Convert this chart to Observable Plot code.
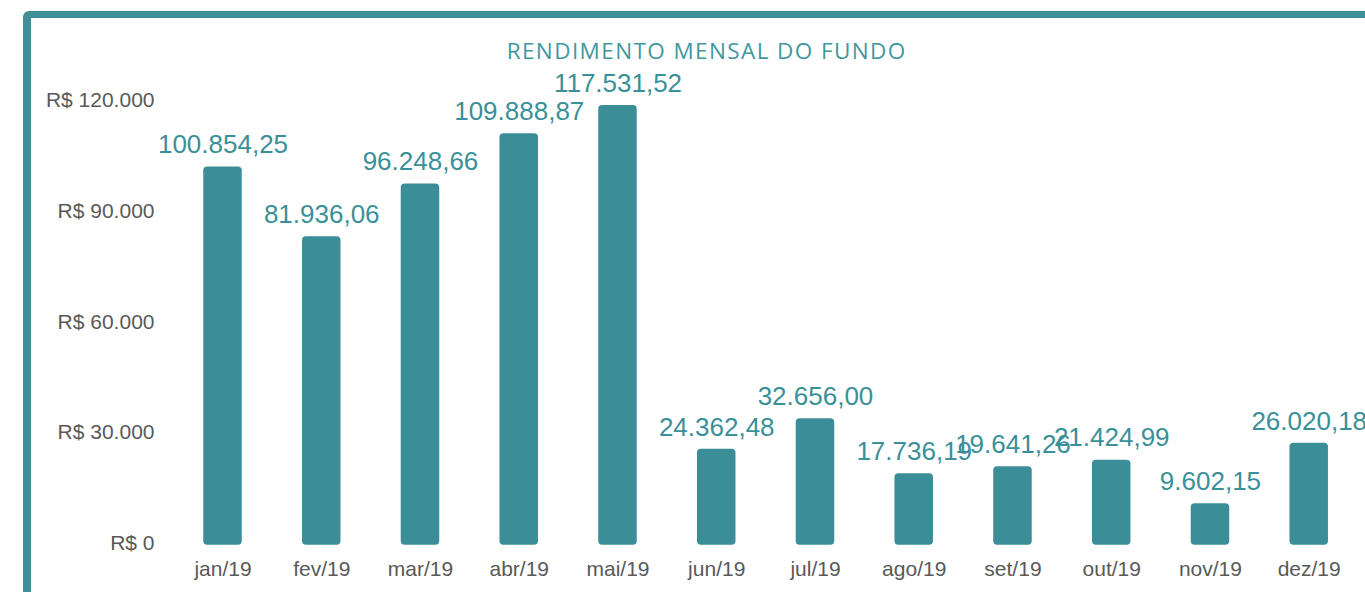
<!DOCTYPE html>
<html>
<head>
<meta charset="utf-8">
<script src="https://cdn.jsdelivr.net/npm/d3@7"></script>
<script src="https://cdn.jsdelivr.net/npm/@observablehq/plot@0.6"></script>
<style>
  html, body { margin: 0; padding: 0; width: 1365px; height: 592px; overflow: hidden; background: #fff; }
  #frame { position: absolute; left: 23px; top: 11px; width: 1420px; height: 640px;
           border-left: 8px solid #3E8F96; border-top: 7px solid #3E8F96; border-radius: 6px; box-sizing: border-box; }
  #title { position: absolute; top: 35px; left: 706.7px; transform: translateX(-50%); white-space: nowrap;
           font-family: "Open Sans", sans-serif; font-size: 22.5px; color: #3F979F; letter-spacing: 1.4px; line-height: 32px; }
  #chart { position: absolute; left: 0; top: 0; }
</style>
</head>
<body>
<div id="frame"></div>
<div id="chart"></div>
<div id="title">RENDIMENTO MENSAL DO FUNDO</div>
<script>
const months = ["jan/19","fev/19","mar/19","abr/19","mai/19","jun/19","jul/19","ago/19","set/19","out/19","nov/19","dez/19"];
const values = [100854.25, 81936.06, 96248.66, 109888.87, 117531.52, 24362.48, 32656.00, 17736.19, 19641.26, 21424.99, 9602.15, 26020.18];
const yTicks = [0, 30000, 60000, 90000, 120000];

const loc = d3.formatLocale({decimal: ",", thousands: ".", grouping: [3], currency: ["R$ ", ""]});
const fmtVal = loc.format(",.2f");
const fmtTick = loc.format("$,.0f");

const data = months.map((m, i) => ({month: m, value: values[i]}));
const teal = "#3B8E97";

const chart = Plot.plot({
  width: 1365,
  height: 592,
  marginTop: 95.9,
  marginBottom: 53.3,
  marginLeft: 154,
  marginRight: 0,
  style: {background: "transparent", overflow: "visible"},
  x: {domain: months, range: [143, 1388.2], padding: 0.61, round: false, label: null},
  y: {domain: [0, 120000], label: null},
  marks: [
    Plot.axisY({ticks: yTicks, tickFormat: fmtTick, tickSize: 0, tickPadding: 0, dy: 4,
      fontSize: 21, fill: "#595959", fontFamily: "Liberation Sans, Arial, sans-serif", label: null}),
    Plot.axisX({tickSize: 0, tickPadding: 22, fontSize: 21, fill: "#595959",
      fontFamily: "Liberation Sans, Arial, sans-serif", label: null}),
    Plot.barY(data, {x: "month", y: "value", fill: teal, rx: 4, insetBottom: -6}),
    Plot.text(data, {x: "month", y: "value", text: d => fmtVal(d.value), dy: -22,
      fontSize: 26, fill: "#3A9098", fontFamily: "Liberation Sans, Arial, sans-serif"})
  ]
});
document.getElementById("chart").appendChild(chart);
</script>
</body>
</html>
